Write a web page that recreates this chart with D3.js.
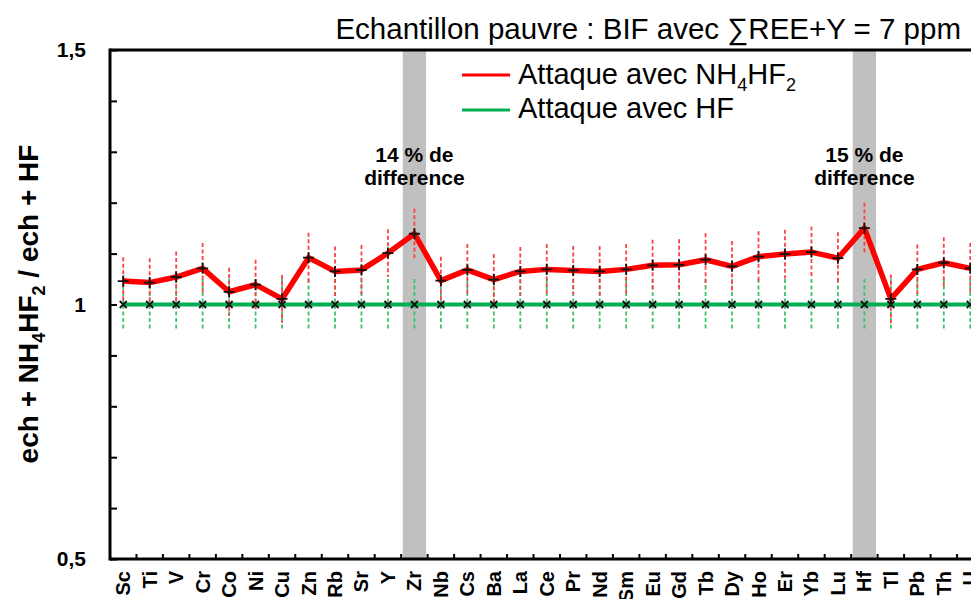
<!DOCTYPE html>
<html>
<head>
<meta charset="utf-8">
<script src="https://cdn.jsdelivr.net/npm/d3@7"></script>
<style>
  body { margin: 0; background: #fff; overflow: hidden; }
  svg { display: block; font-family: "Liberation Sans", Arial, sans-serif; }
</style>
</head>
<body>
<div id="chart-container"></div>
<script>
// Chart data
const elements = ["Sc","Ti","V","Cr","Co","Ni","Cu","Zn","Rb","Sr","Y","Zr","Nb","Cs","Ba","La","Ce","Pr","Nd","Sm","Eu","Gd","Tb","Dy","Ho","Er","Yb","Lu","Hf","Tl","Pb","Th","U"];
const ratioNH4HF2 = [1.046,1.043,1.054,1.071,1.025,1.039,1.011,1.092,1.065,1.068,1.101,1.139,1.047,1.068,1.049,1.065,1.069,1.067,1.065,1.069,1.077,1.078,1.088,1.075,1.094,1.099,1.103,1.091,1.150,1.011,1.069,1.082,1.071];
const errNH4HF2 = [0.047,0.048,0.050,0.050,0.047,0.049,0.047,0.049,0.049,0.049,0.047,0.049,0.047,0.051,0.050,0.048,0.050,0.048,0.050,0.050,0.050,0.050,0.052,0.050,0.050,0.048,0.050,0.051,0.050,0.048,0.049,0.050,0.050];
const ratioHF = [1,1,1,1,1,1,1,1,1,1,1,1,1,1,1,1,1,1,1,1,1,1,1,1,1,1,1,1,1,1,1,1,1];
const errHF = [0.05,0.05,0.05,0.05,0.05,0.05,0.05,0.05,0.05,0.05,0.05,0.05,0.05,0.05,0.05,0.05,0.05,0.05,0.05,0.05,0.05,0.05,0.05,0.05,0.05,0.05,0.05,0.05,0.05,0.05,0.05,0.05,0.05];
const highlighted = ["Zr", "Hf"];
const highlightText = ["14 % de", "15 % de"];
const yTickLabels = [0.5, 1, 1.5];

const width = 971, height = 599;
const margin = { left: 110, top: 50, bottom: 559 };
const step = 26.47;

const svg = d3.select("#chart-container").append("svg")
  .attr("width", width).attr("height", height);

// scales
const x = d3.scaleBand().domain(elements)
  .range([margin.left, margin.left + step * elements.length]).padding(0);
const y = d3.scaleLinear().domain([0.5, 1.5]).range([margin.bottom, margin.top]);
const cx = d => x(d) + x.bandwidth() / 2;
const fmt = v => d3.format(".1f")(v).replace(".", ",").replace(",0", "");

// grey bands
highlighted.forEach(el => {
  svg.append("rect")
    .attr("x", cx(el) - x.bandwidth() * 0.44)
    .attr("y", margin.top)
    .attr("width", x.bandwidth() * 0.88)
    .attr("height", margin.bottom - margin.top)
    .attr("fill", "#c0c0c0");
});

// error bars
function errorBars(vals, errs, color) {
  svg.append("g").selectAll("line").data(elements).join("line")
    .attr("x1", d => cx(d)).attr("x2", d => cx(d))
    .attr("y1", (d, i) => y(vals[i] + errs[i]))
    .attr("y2", (d, i) => y(vals[i] - errs[i]))
    .attr("stroke", color).attr("stroke-width", 1.8)
    .attr("stroke-dasharray", "4,2.5");
}
errorBars(ratioHF, errHF, "#3cc26e");
errorBars(ratioNH4HF2, errNH4HF2, "#ff4040");

// lines
const line = d3.line().x((d, i) => cx(elements[i])).y(d => y(d));
svg.append("path").datum(ratioHF).attr("d", line)
  .attr("fill", "none").attr("stroke", "#00b050").attr("stroke-width", 4);
svg.append("path").datum(ratioNH4HF2).attr("d", line)
  .attr("fill", "none").attr("stroke", "#ff0000").attr("stroke-width", 5.5)
  .attr("stroke-linejoin", "round");

// markers
svg.append("g").selectAll("path").data(ratioHF).join("path")
  .attr("d", (d, i) => {
    const px = cx(elements[i]), py = y(d), s = 3.5;
    return `M${px - s},${py - s}L${px + s},${py + s}M${px - s},${py + s}L${px + s},${py - s}`;
  })
  .attr("stroke", "#111").attr("stroke-width", 1.8);
svg.append("g").selectAll("path").data(ratioNH4HF2).join("path")
  .attr("d", (d, i) => {
    const px = cx(elements[i]), py = y(d), s = 5.5;
    return `M${px - s},${py}L${px + s},${py}M${px},${py - s}L${px},${py + s}`;
  })
  .attr("stroke", "#111").attr("stroke-width", 1.8);

// axes frame
svg.append("line").attr("x1", margin.left).attr("x2", width)
  .attr("y1", margin.top).attr("y2", margin.top)
  .attr("stroke", "#000").attr("stroke-width", 3);

const yAxis = svg.append("g").attr("transform", `translate(${margin.left},0)`)
  .call(d3.axisRight(y).tickValues(d3.range(0.5, 1.51, 0.1)).tickSize(7).tickFormat(""));
yAxis.select(".domain").remove();
yAxis.selectAll("line").attr("stroke", "#000").attr("stroke-width", 2);
svg.append("line").attr("x1", margin.left).attr("x2", margin.left)
  .attr("y1", margin.top - 1.5).attr("y2", margin.bottom + 1.5)
  .attr("stroke", "#000").attr("stroke-width", 3);

const xTicks = d3.range(1, elements.length).map(i => margin.left + i * step);
svg.append("g").selectAll("line").data(xTicks).join("line")
  .attr("x1", d => d).attr("x2", d => d)
  .attr("y1", margin.bottom).attr("y2", margin.bottom - 5)
  .attr("stroke", "#000").attr("stroke-width", 2);
svg.append("line").attr("x1", margin.left).attr("x2", width)
  .attr("y1", margin.bottom).attr("y2", margin.bottom)
  .attr("stroke", "#000").attr("stroke-width", 3);

// y tick labels
svg.append("g").selectAll("text").data(yTickLabels).join("text")
  .attr("x", 86).attr("y", d => y(d)).attr("dy", "0.35em")
  .attr("text-anchor", "end").attr("font-weight", "bold").attr("font-size", 21)
  .text(d => fmt(d));

// x labels
svg.append("g").selectAll("text").data(elements).join("text")
  .attr("transform", d => `translate(${cx(d) + 7},571) rotate(-90)`)
  .attr("text-anchor", "end").attr("font-weight", "bold").attr("font-size", 20)
  .text(d => d);

// y title
const yt = svg.append("text")
  .attr("transform", "translate(38,304) rotate(-90)")
  .attr("text-anchor", "middle").attr("font-weight", "bold").attr("font-size", 28);
yt.append("tspan").text("ech + NH");
yt.append("tspan").attr("dy", 7).attr("font-size", 18).text("4");
yt.append("tspan").attr("dy", -7).text("HF");
yt.append("tspan").attr("dy", 7).attr("font-size", 18).text("2");
yt.append("tspan").attr("dy", -7).text(" / ech + HF");

// title
svg.append("text").attr("x", 961).attr("y", 39).attr("text-anchor", "end")
  .attr("font-size", 29.5).text("Echantillon pauvre : BIF avec \u2211REE+Y = 7 ppm");

// legend
svg.append("line").attr("x1", 462).attr("x2", 510).attr("y1", 75).attr("y2", 75)
  .attr("stroke", "#ff0000").attr("stroke-width", 3);
svg.append("line").attr("x1", 462).attr("x2", 510).attr("y1", 110).attr("y2", 110)
  .attr("stroke", "#00b050").attr("stroke-width", 3);
const l1 = svg.append("text").attr("x", 518).attr("y", 84).attr("font-size", 29);
l1.append("tspan").text("Attaque avec NH");
l1.append("tspan").attr("dy", 7).attr("font-size", 18).text("4");
l1.append("tspan").attr("dy", -7).text("HF");
l1.append("tspan").attr("dy", 7).attr("font-size", 18).text("2");
svg.append("text").attr("x", 518).attr("y", 118).attr("font-size", 29).text("Attaque avec HF");

// annotations
highlighted.forEach((el, i) => {
  svg.append("text").attr("text-anchor", "middle")
    .attr("font-weight", "bold").attr("font-size", 21)
    .attr("x", cx(el)).attr("y", 162).text(highlightText[i]);
  svg.append("text").attr("text-anchor", "middle")
    .attr("font-weight", "bold").attr("font-size", 21)
    .attr("x", cx(el)).attr("y", 185).text("difference");
});
</script>
</body>
</html>
